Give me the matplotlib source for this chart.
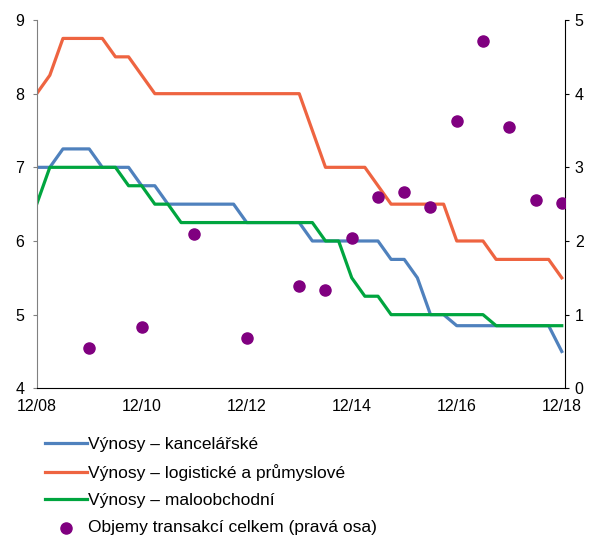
import matplotlib
matplotlib.use("Agg")
import matplotlib.pyplot as plt
import numpy as np

plt.rcParams['font.family'] = ['Liberation Sans', 'DejaVu Sans']

# quarterly observations, 12/08 .. 12/18
quarters = np.arange(41)
tick_pos = [0, 8, 16, 24, 32, 40]
tick_labels = ["12/08", "12/10", "12/12", "12/14", "12/16", "12/18"]

# yields (%), left axis
kancelarske = [7.0, 7.0, 7.25, 7.25, 7.25, 7.0, 7.0, 7.0, 6.75, 6.75,
               6.5, 6.5, 6.5, 6.5, 6.5, 6.5, 6.25, 6.25, 6.25, 6.25,
               6.25, 6.0, 6.0, 6.0, 6.0, 6.0, 6.0, 5.75, 5.75, 5.5,
               5.0, 5.0, 4.85, 4.85, 4.85, 4.85, 4.85, 4.85, 4.85, 4.85,
               4.5]
logisticke = [8.0, 8.25, 8.75, 8.75, 8.75, 8.75, 8.5, 8.5, 8.25, 8.0,
              8.0, 8.0, 8.0, 8.0, 8.0, 8.0, 8.0, 8.0, 8.0, 8.0,
              8.0, 7.5, 7.0, 7.0, 7.0, 7.0, 6.75, 6.5, 6.5, 6.5,
              6.5, 6.5, 6.0, 6.0, 6.0, 5.75, 5.75, 5.75, 5.75, 5.75,
              5.5]
maloobchodni = [6.5, 7.0, 7.0, 7.0, 7.0, 7.0, 7.0, 6.75, 6.75, 6.5,
                6.5, 6.25, 6.25, 6.25, 6.25, 6.25, 6.25, 6.25, 6.25, 6.25,
                6.25, 6.25, 6.0, 6.0, 5.5, 5.25, 5.25, 5.0, 5.0, 5.0,
                5.0, 5.0, 5.0, 5.0, 5.0, 4.85, 4.85, 4.85, 4.85, 4.85,
                4.85]

# transaction volumes, right axis
objem_q = [4, 8, 12, 16, 20, 22, 24, 26, 28, 30, 32, 34, 36, 38, 40]
objem = [0.55, 0.83, 2.09, 0.68, 1.39, 1.34, 2.04, 2.60, 2.66, 2.46,
         3.63, 4.72, 3.55, 2.56, 2.52]

fig = plt.figure(figsize=(5.9, 5.35), dpi=100)
ax = fig.add_axes([0.0622, 0.2742, 0.8955, 0.6884])
ax2 = ax.twinx()

l1, = ax.plot(quarters, kancelarske, color="#4F81BD", lw=2.3)
l2, = ax.plot(quarters, logisticke, color="#EE6441", lw=2.3)
l3, = ax.plot(quarters, maloobchodni, color="#00A53F", lw=2.3)
sc = ax2.scatter(objem_q, objem, s=64, color="#800080", zorder=3)

ax.set_xlim(0, 40.25)
ax.set_ylim(4, 9)
ax2.set_ylim(0, 5)
ax.set_yticks([4, 5, 6, 7, 8, 9])
ax2.set_yticks([0, 1, 2, 3, 4, 5])
ax.set_xticks(tick_pos)
ax.set_xticklabels(tick_labels)

for a in (ax, ax2):
    a.spines['top'].set_visible(False)
ax.spines['right'].set_visible(False)
ax2.spines['left'].set_visible(False)
ax2.spines['bottom'].set_visible(False)
ax.spines['left'].set_color("#808080")
ax2.spines['right'].set_color("black")

ax.tick_params(axis='x', length=0, pad=8, labelsize=11.5)
ax.tick_params(axis='y', length=3, color="#808080", pad=6, labelsize=11.5)
ax2.tick_params(axis='y', length=3, color="black", pad=4, labelsize=11.5)

fig.legend([l1, l2, l3, sc],
           ["Výnosy – kancelářské", "Výnosy – logistické a průmyslové",
            "Výnosy – maloobchodní", "Objemy transakcí celkem (pravá osa)"],
           loc="upper left", bbox_to_anchor=(0.077, 0.184), frameon=False,
           fontsize=12.5, handlelength=2.4, handletextpad=0.05,
           labelspacing=0.7, borderpad=0, borderaxespad=0)

fig.savefig("out.png", dpi=100)
